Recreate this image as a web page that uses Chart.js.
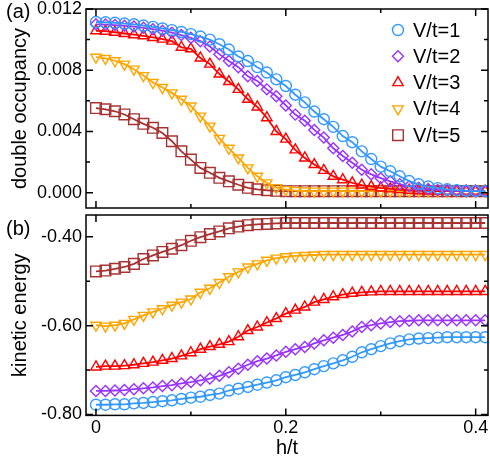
<!DOCTYPE html>
<html>
<head>
<meta charset="utf-8">
<script src="https://cdn.jsdelivr.net/npm/chart.js@4/dist/chart.umd.min.js"></script>
<style>
  body { margin: 0; background: #fff; }
  #wrap { position: relative; width: 490px; height: 468px; }
  #topBox { position: absolute; left: 0; top: 0; width: 490px; height: 212px; }
  #botBox { position: absolute; left: 0; top: 212px; width: 490px; height: 256px; }
</style>
</head>
<body>
<div id="wrap">
  <div id="topBox"><canvas id="topCanvas"></canvas></div>
  <div id="botBox"><canvas id="botCanvas"></canvas></div>
</div>
<script>
// h/t values
const hVals = [0,0.01,0.02,0.03,0.04,0.05,0.06,0.07,0.08,0.09,
  0.10,0.11,0.12,0.13,0.14,0.15,0.16,0.17,0.18,0.19,
  0.20,0.21,0.22,0.23,0.24,0.25,0.26,0.27,0.28,0.29,
  0.30,0.31,0.32,0.33,0.34,0.35,0.36,0.37,0.38,0.39,
  0.40,0.41];

const seriesLabels = ["V/t=1", "V/t=2", "V/t=3", "V/t=4", "V/t=5"];

// (a) double occupancy
const docc1 = [0.01115,0.01113,0.0111,0.01105,0.011,0.01092,0.01083,0.01073,0.01062,0.0105,
  0.01036,0.0102,0.01,0.0097,0.00935,0.0089,0.0086,0.0082,0.00785,0.0074,
  0.00697,0.0064,0.0059,0.0053,0.0048,0.0043,0.0037,0.0033,0.0027,0.0022,
  0.0017,0.0014,0.00107,0.00076,0.00055,0.0004,0.0003,0.00022,0.00017,0.00013,
  0.0001,0.0001];
const docc2 = [0.011,0.01098,0.01095,0.0109,0.01085,0.01077,0.01068,0.01058,0.01045,0.0103,
  0.01012,0.0099,0.00955,0.00905,0.0086,0.0082,0.0076,0.0073,0.00675,0.0063,
  0.0057,0.0051,0.0047,0.0041,0.0036,0.0029,0.0024,0.00195,0.0015,0.0012,
  0.00095,0.00074,0.00056,0.00042,0.00032,0.00024,0.00018,0.00014,0.00012,0.0001,
  0.0001,0.0001];
const docc3 = [0.01058,0.01055,0.01048,0.0104,0.01032,0.01025,0.01014,0.01003,0.0099,0.0095,
  0.0094,0.0088,0.0084,0.00775,0.00726,0.00675,0.0061,0.0056,0.0049,0.004,
  0.0035,0.0028,0.00227,0.00184,0.00146,0.00107,0.00085,0.00064,0.0005,0.0004,
  0.00031,0.00025,0.0002,0.00016,0.00013,0.00011,0.0001,0.0001,0.0001,0.0001,
  0.0001,0.0001];
const docc4 = [0.00885,0.00877,0.00862,0.0084,0.00807,0.00765,0.0072,0.00687,0.00652,0.0061,
  0.00566,0.005,0.00435,0.00355,0.0029,0.00227,0.00162,0.00107,0.00064,0.00033,
  0.0002,0.00014,0.00011,0.0001,0.0001,0.0001,0.0001,0.0001,0.0001,0.0001,
  0.0001,0.0001,0.0001,0.0001,0.0001,0.0001,0.0001,0.0001,0.0001,0.0001,
  0.0001,0.0001];
const docc5 = [0.00553,0.00545,0.00532,0.00511,0.0048,0.0045,0.00424,0.0039,0.00336,0.0027,
  0.00216,0.00162,0.0013,0.00097,0.00074,0.00052,0.00032,0.00022,0.00016,0.00012,
  0.0001,0.0001,0.0001,0.0001,0.0001,0.0001,0.0001,0.0001,0.0001,0.0001,
  0.0001,0.0001,0.0001,0.0001,0.0001,0.0001,0.0001,0.0001,0.0001,0.0001,
  0.0001,0.0001];

// (b) kinetic energy
const ke1 = [-0.778,-0.778,-0.777,-0.777,-0.775,-0.774,-0.772,-0.770,-0.768,-0.765,
  -0.762,-0.760,-0.756,-0.753,-0.746,-0.742,-0.738,-0.733,-0.728,-0.723,
  -0.716,-0.711,-0.705,-0.698,-0.691,-0.685,-0.678,-0.670,-0.660,-0.653,
  -0.646,-0.640,-0.635,-0.631,-0.629,-0.628,-0.627,-0.626,-0.626,-0.626,
  -0.626,-0.626];
const ke2 = [-0.747,-0.747,-0.746,-0.745,-0.743,-0.741,-0.739,-0.736,-0.734,-0.730,
  -0.727,-0.723,-0.719,-0.713,-0.705,-0.697,-0.688,-0.680,-0.674,-0.667,
  -0.659,-0.653,-0.648,-0.640,-0.633,-0.627,-0.621,-0.613,-0.603,-0.599,
  -0.595,-0.592,-0.590,-0.589,-0.588,-0.588,-0.588,-0.588,-0.588,-0.588,
  -0.588,-0.588];
const ke3 = [-0.693,-0.691,-0.691,-0.690,-0.688,-0.685,-0.682,-0.678,-0.674,-0.668,
  -0.661,-0.653,-0.647,-0.642,-0.636,-0.625,-0.611,-0.603,-0.593,-0.584,
  -0.573,-0.565,-0.558,-0.547,-0.541,-0.535,-0.530,-0.527,-0.525,-0.524,
  -0.523,-0.523,-0.523,-0.523,-0.523,-0.523,-0.523,-0.523,-0.523,-0.523,
  -0.523,-0.523];
const ke4 = [-0.599,-0.601,-0.599,-0.595,-0.586,-0.577,-0.569,-0.562,-0.554,-0.547,
  -0.540,-0.525,-0.516,-0.503,-0.490,-0.479,-0.468,-0.461,-0.453,-0.448,
  -0.445,-0.443,-0.442,-0.441,-0.440,-0.440,-0.440,-0.440,-0.440,-0.440,
  -0.440,-0.440,-0.440,-0.440,-0.440,-0.440,-0.440,-0.440,-0.440,-0.440,
  -0.440,-0.440];
const ke5 = [-0.478,-0.476,-0.472,-0.468,-0.461,-0.450,-0.442,-0.434,-0.427,-0.419,
  -0.409,-0.401,-0.394,-0.388,-0.381,-0.377,-0.374,-0.372,-0.371,-0.370,
  -0.369,-0.369,-0.369,-0.369,-0.369,-0.369,-0.369,-0.369,-0.369,-0.369,
  -0.369,-0.369,-0.369,-0.369,-0.369,-0.369,-0.369,-0.369,-0.369,-0.369,
  -0.369,-0.369];

// ticks
const xTicks = [0, 0.2, 0.4];
const xMinor = [0.1, 0.3];
const doccTicks = [0.000, 0.004, 0.008, 0.012];
const doccMinor = [0.002, 0.006, 0.010];
const keTicks = [-0.80, -0.60, -0.40];
const keMinor = [-0.70, -0.50];

const colors = ["#3399ff", "#9933ff", "#ff0000", "#ffa500", "#a83232"];
const styles = ["circle", "rectRot", "triangle", "triangle", "rect"];
const rotations = [0, 0, 0, 180, 0];
const radii = [5.5, 5.5, 6, 6, 7.5];

const FONT = "'Liberation Sans', Arial, sans-serif";

function makeSets(lists) {
  return lists.map((vals, i) => ({
    label: seriesLabels[i],
    data: hVals.map((h, j) => ({ x: h, y: vals[j] })),
    borderColor: colors[i],
    backgroundColor: "rgba(0,0,0,0)",
    borderWidth: 1.8,
    pointStyle: styles[i],
    pointRotation: rotations[i],
    pointRadius: radii[i],
    pointBorderWidth: 1.4,
    pointBorderColor: colors[i],
    pointBackgroundColor: "rgba(0,0,0,0)",
    tension: 0
  }));
}

// frame with inward ticks on all four sides
const framePlugin = {
  id: "frame",
  afterDatasetsDraw(chart, args, o) {
    const { ctx, chartArea: a, scales } = chart;
    ctx.save();
    ctx.strokeStyle = "#000";
    ctx.lineWidth = 1.5;
    ctx.strokeRect(a.left, a.top, a.right - a.left, a.bottom - a.top);
    ctx.beginPath();
    const xt = (vals, len) => vals.forEach(v => {
      const px = scales.x.getPixelForValue(v);
      ctx.moveTo(px, a.bottom); ctx.lineTo(px, a.bottom - len);
      ctx.moveTo(px, a.top); ctx.lineTo(px, a.top + len);
    });
    const yt = (vals, len) => vals.forEach(v => {
      const py = scales.y.getPixelForValue(v);
      ctx.moveTo(a.left, py); ctx.lineTo(a.left + len, py);
      ctx.moveTo(a.right, py); ctx.lineTo(a.right - len, py);
    });
    xt(o.xMajor, 7); xt(o.xMinor, 4);
    yt(o.yMajor, 7); yt(o.yMinor, 4);
    ctx.stroke();
    // panel tag
    ctx.fillStyle = "#000";
    ctx.font = "20px " + FONT;
    ctx.textBaseline = "middle";
    ctx.textAlign = "left";
    ctx.fillText(o.tag, o.tagX, o.tagY);
    ctx.restore();
  }
};

// legend drawn inside the top panel
const legendPlugin = {
  id: "innerLegend",
  afterDraw(chart, args, o) {
    if (!o.show) return;
    const ctx = chart.ctx;
    ctx.save();
    chart.data.datasets.forEach((ds, i) => {
      const y = o.y + i * o.gap;
      ctx.strokeStyle = ds.pointBorderColor;
      ctx.fillStyle = "rgba(0,0,0,0)";
      ctx.lineWidth = 1.4;
      Chart.helpers.drawPoint(ctx, { pointStyle: ds.pointStyle, rotation: ds.pointRotation, radius: ds.pointRadius, borderWidth: 1.4 }, o.x, y);
      ctx.fillStyle = "#000";
      ctx.font = "20px " + FONT;
      ctx.textBaseline = "middle";
      ctx.textAlign = "left";
      ctx.fillText(ds.label, o.x + 15, y + 1);
    });
    ctx.restore();
  }
};

// drop the label-driven margins so layout.padding alone places the plot box
function noMargins(s) {
  s.paddingTop = 0; s.paddingBottom = 0; s.paddingLeft = 0; s.paddingRight = 0;
}

function yAxis(min, max, ticks, title, digits) {
  return {
    type: "linear",
    min: min, max: max,
    afterBuildTicks: s => { s.ticks = ticks.map(v => ({ value: v })); },
    afterFit: s => { s.width = 86; noMargins(s); },
    grid: { display: false, drawTicks: false },
    border: { display: false },
    ticks: {
      color: "#000", padding: 4,
      font: { size: 18, family: FONT },
      callback: v => v.toFixed(digits)
    },
    title: { display: true, text: title, color: "#000", font: { size: 20, family: FONT }, padding: { top: 8, bottom: 0 } }
  };
}

function xAxis(show) {
  return {
    type: "linear",
    min: -0.0105, max: 0.413,
    display: show,
    afterBuildTicks: s => { s.ticks = xTicks.map(v => ({ value: v })); },
    afterFit: s => { noMargins(s); },
    grid: { display: false, drawTicks: false },
    border: { display: false },
    ticks: {
      color: "#000", padding: 2, maxRotation: 0,
      font: { size: 18, family: FONT },
      callback: v => (v === 0 ? "0" : v.toFixed(1))
    },
    title: { display: true, text: "h/t", color: "#000", font: { size: 20, family: FONT }, padding: { top: -5, bottom: 5 } }
  };
}

const common = {
  responsive: true,
  maintainAspectRatio: false,
  animation: false,
  plugins: { legend: { display: false }, tooltip: { enabled: false } }
};

new Chart(document.getElementById("topCanvas"), {
  type: "line",
  data: { datasets: makeSets([docc1, docc2, docc3, docc4, docc5]) },
  options: {
    ...common,
    layout: { autoPadding: false, padding: { top: 9, right: 2, bottom: 4, left: 0 } },
    scales: { x: xAxis(false), y: yAxis(-0.001, 0.012, doccTicks, "double occupancy", 3) },
    plugins: {
      ...common.plugins,
      frame: { xMajor: xTicks, xMinor: xMinor, yMajor: doccTicks, yMinor: doccMinor, tag: "(a)", tagX: 6, tagY: 12 },
      innerLegend: { show: true, x: 398, y: 30, gap: 26.3 }
    }
  },
  plugins: [framePlugin, legendPlugin]
});

new Chart(document.getElementById("botCanvas"), {
  type: "line",
  data: { datasets: makeSets([ke1, ke2, ke3, ke4, ke5]) },
  options: {
    ...common,
    layout: { autoPadding: false, padding: { top: 3, right: 2, bottom: 3, left: 0 } },
    scales: { x: xAxis(true), y: yAxis(-0.802, -0.351, keTicks, "kinetic energy", 2) },
    plugins: {
      ...common.plugins,
      frame: { xMajor: xTicks, xMinor: xMinor, yMajor: keTicks, yMinor: keMinor, tag: "(b)", tagX: 6, tagY: 17 },
      innerLegend: { show: false }
    }
  },
  plugins: [framePlugin, legendPlugin]
});
</script>
</body>
</html>
